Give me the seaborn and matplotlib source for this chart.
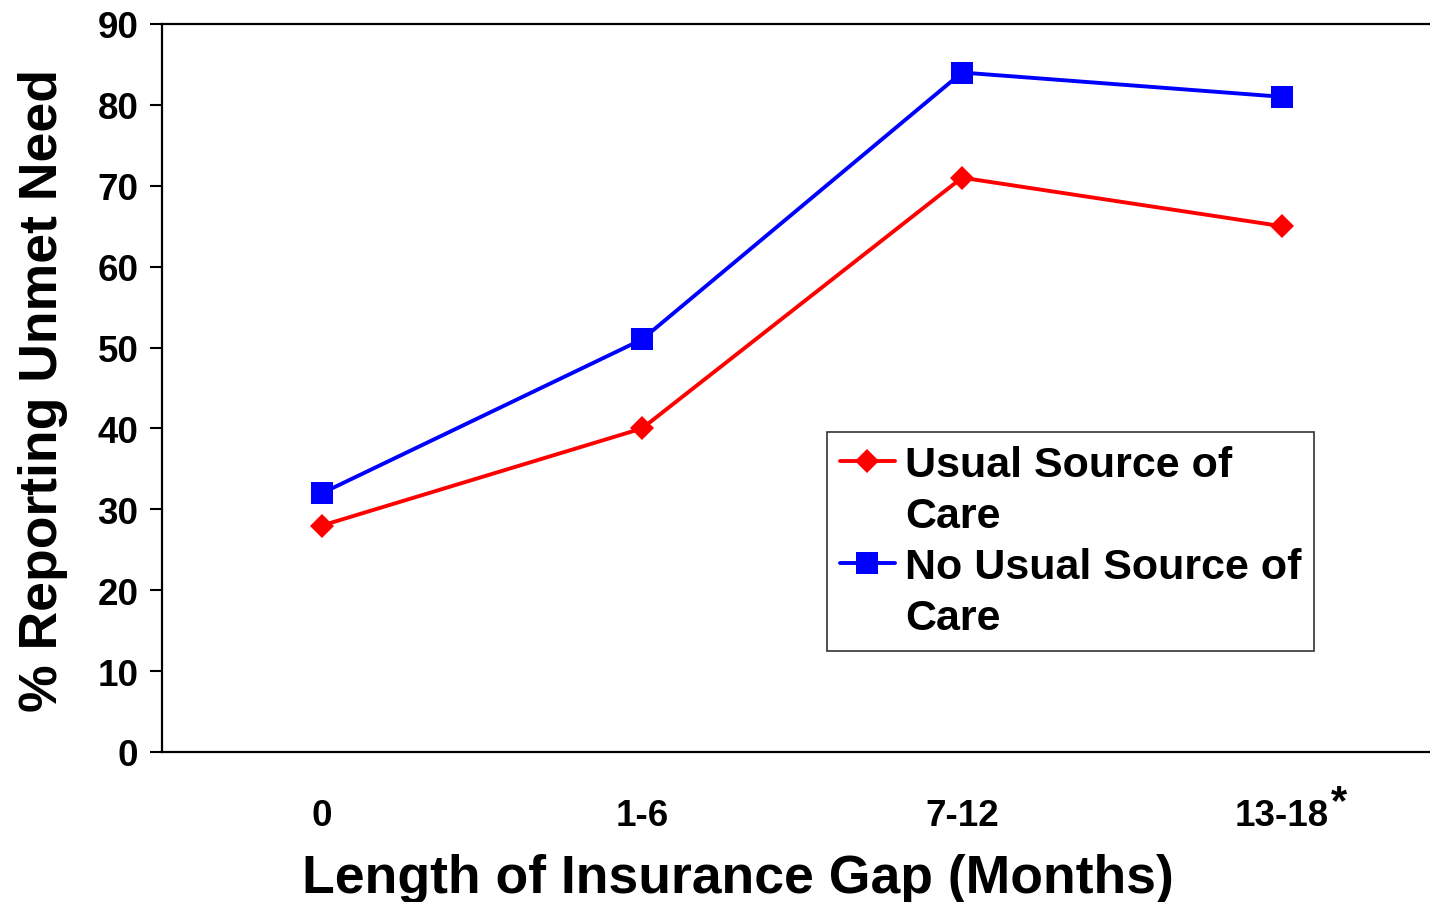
import matplotlib
matplotlib.use("Agg")
import matplotlib.pyplot as plt
from matplotlib.lines import Line2D
import seaborn as sns
import pandas as pd

# Share of respondents reporting unmet need, by length of insurance gap
gap_lengths = ["0", "1-6", "7-12", "13-18"]
usual_source = [28, 40, 71, 65]
no_usual_source = [32, 51, 84, 81]
series_names = ["Usual Source of Care", "No Usual Source of Care"]
y_ticks = [0, 10, 20, 30, 40, 50, 60, 70, 80, 90]

df = pd.DataFrame({
    "gap": gap_lengths * 2,
    "pct": usual_source + no_usual_source,
    "group": [series_names[0]] * len(gap_lengths) + [series_names[1]] * len(gap_lengths),
})

sns.set_theme(style="white")
plt.rcParams["font.family"] = ["Liberation Sans", "DejaVu Sans"]
plt.rcParams["font.weight"] = "bold"
plt.rcParams["text.color"] = "black"
plt.rcParams["axes.labelcolor"] = "black"
plt.rcParams["xtick.color"] = "black"
plt.rcParams["ytick.color"] = "black"

fig = plt.figure(figsize=(14.30, 9.03), dpi=100)
ax = fig.add_axes([162 / 1430, 1 - 753 / 903, 1280 / 1430, 728 / 903])

palette = {series_names[0]: "#ff0000", series_names[1]: "#0000ff"}
markers = {series_names[0]: "D", series_names[1]: "s"}
msize = {series_names[0]: 12, series_names[1]: 16}
lw = 2.8

sns.lineplot(data=df, x="gap", y="pct", hue="group", style="group",
             palette=palette, markers=markers, dashes=False, linewidth=lw,
             markeredgewidth=0, ax=ax, legend=False, sort=False)
for line, name in zip(ax.get_lines(), series_names):
    line.set_markersize(msize[name])

ax.set_xlim(-0.5, 3.5)
ax.set_ylim(0, 90)
ax.set_yticks(y_ticks)
ax.set_yticklabels([str(t) for t in y_ticks], fontsize=26.5, fontweight="bold")
ax.set_xticks(range(len(gap_lengths)))
ax.set_xticklabels(gap_lengths, fontsize=26.5, fontweight="bold")
ax.tick_params(axis="x", length=0, pad=33)
ax.tick_params(axis="y", direction="out", length=9, width=1.5, color="black",
               left=True, pad=8)
# footnote marker on the last category
ax.text(3.178, -6.2, "*", fontsize=30, fontweight="bold", ha="center", va="center")

for side in ["left", "bottom", "top"]:
    ax.spines[side].set_visible(True)
    ax.spines[side].set_color("black")
    ax.spines[side].set_linewidth(1.6)
ax.spines["right"].set_visible(False)

ax.set_xlabel("Length of Insurance Gap (Months)", fontsize=38.5, fontweight="bold")
ax.set_ylabel("% Reporting Unmet Need", fontsize=38.5, fontweight="bold")
ax.xaxis.set_label_coords((737.5 - 162) / 1280, -0.1385)
ax.yaxis.set_label_coords((68 - 162) / 1280, 0.4986)

# Legend: each series label wraps onto a second line beneath the marker row
blank = Line2D([], [], linestyle="none", marker="none")
handles, labels = [], []
for name in series_names:
    first, second = name.rsplit(" ", 1)
    handles.append(Line2D([], [], color=palette[name], marker=markers[name],
                          linewidth=lw, markersize=msize[name], markeredgewidth=0))
    labels.append(first)
    handles.append(blank)
    labels.append(second)

leg = ax.legend(handles, labels, loc="upper left",
                bbox_to_anchor=((827 - 162) / 1280, 1 - (433 - 25) / 728),
                prop={"size": 31, "weight": "bold"}, frameon=True, fancybox=False,
                edgecolor="black", handlelength=1.28, handletextpad=0.23,
                borderpad=0.3, labelspacing=0.26, borderaxespad=0)
leg.get_frame().set_linewidth(1.2)

fig.savefig("out.png", dpi=100)
